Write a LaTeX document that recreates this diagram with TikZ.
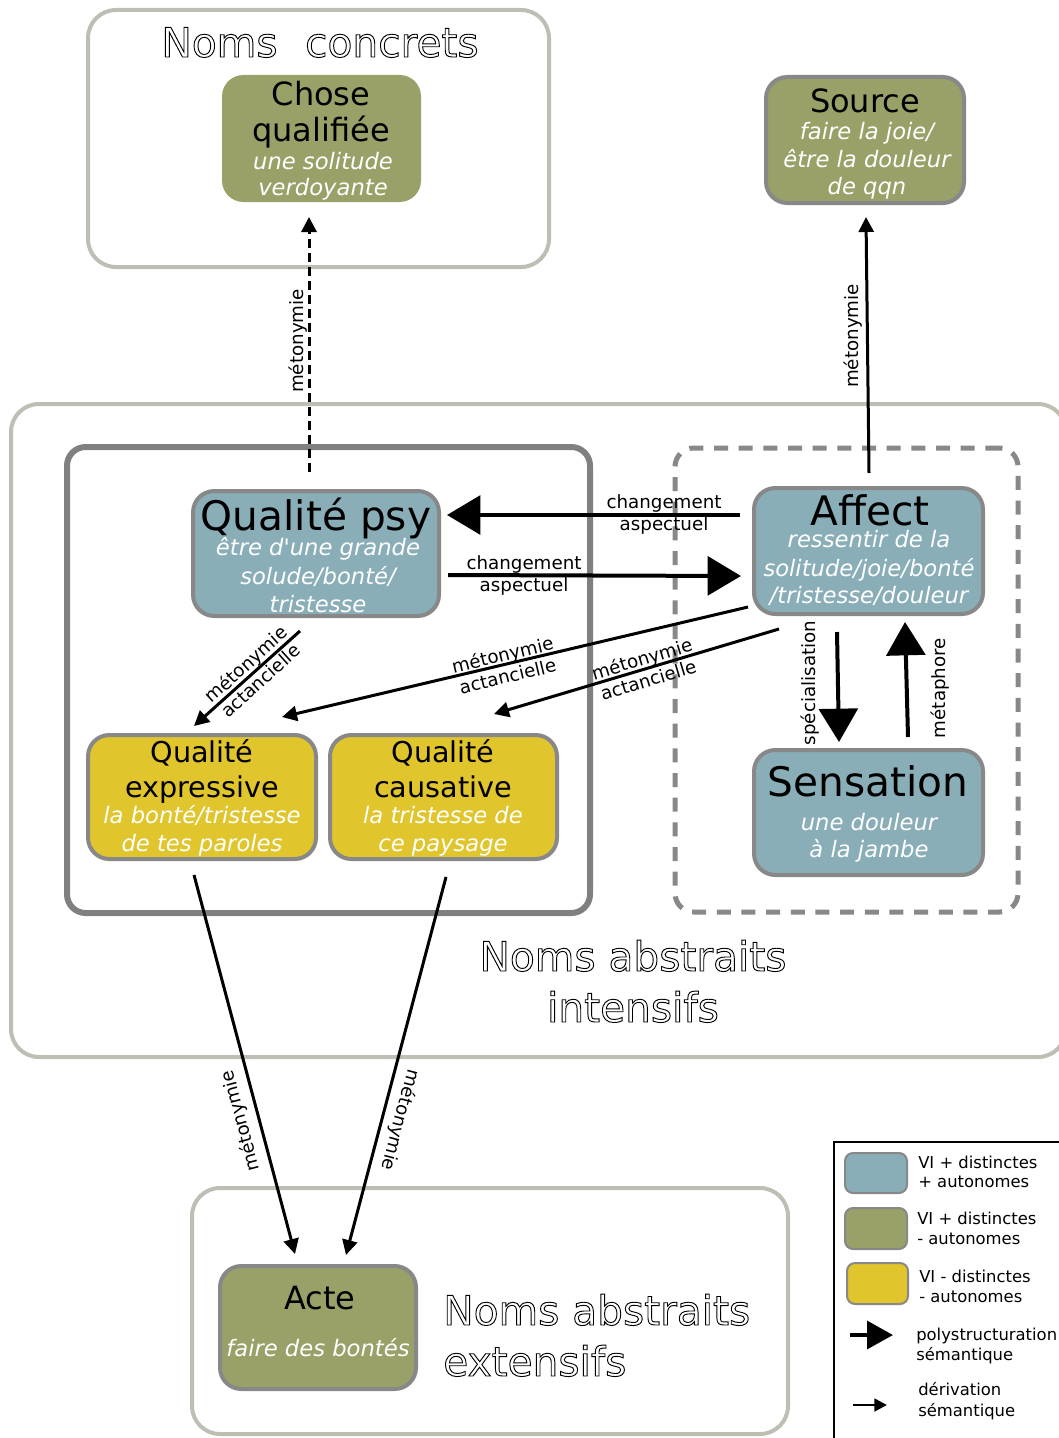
\documentclass[tikz,border=0pt]{standalone}
\usepackage{fontspec}
\setmainfont{DejaVu Sans}[Ligatures=TeXOff]
\usetikzlibrary{arrows.meta,fit}
\definecolor{olivebox}{RGB}{153,161,104}
\definecolor{bluebox}{RGB}{138,174,183}
\definecolor{yellowbox}{RGB}{225,197,45}
\definecolor{bordergray}{RGB}{136,136,136}
\definecolor{lightframe}{RGB}{190,190,181}
\definecolor{darkframe}{RGB}{128,128,128}
\newcommand\outlinetext[1]{\special{pdf:code 1 Tr 0.7 w}#1\special{pdf:code 0 Tr}}
\tikzset{
  lightbox/.style={draw=lightframe, line width=3pt, rounded corners=21pt, inner sep=0pt, fit={#1}},
  darkbox/.style={draw=darkframe, line width=4.5pt, rounded corners=14pt, inner sep=0pt, fit={#1}},
  dashbox/.style={draw=bordergray, line width=3.75pt, dash pattern=on 10.5pt off 8pt, rounded corners=14pt, inner sep=0pt, fit={#1}},
  cbox/.style={draw=bordergray, line width=3pt, rounded corners=16pt, inner sep=0pt, fit={#1}},
  bigttl/.style={anchor=base, inner sep=0pt, font=\fontsize{30.5}{36}\selectfont},
  ttl/.style={anchor=base, inner sep=0pt, font=\fontsize{24}{28}\selectfont},
  midttl/.style={anchor=base, inner sep=0pt, font=\fontsize{21.5}{26}\selectfont},
  subtxt/.style={anchor=base, inner sep=0pt, text=white, font=\fontsize{17}{20}\selectfont\itshape},
  hollow/.style={anchor=base, inner sep=0pt, font=\fontsize{30.5}{36}\selectfont},
  lbl/.style={inner sep=0pt, align=center, font=\fontsize{13.7}{16.5}\selectfont},
  leg/.style={anchor=base west, inner sep=0pt, font=\fontsize{12.3}{15}\selectfont},
  sarrow/.style={line width=2.25pt, -{Triangle[length=11.25pt,width=11.25pt]}},
  barrow/.style={line width=3pt, -{Triangle[length=25pt,width=29pt]}},
  swatch/.style={draw=bordergray, line width=1.5pt, rounded corners=6pt, inner sep=0pt, fit={#1}},
}
\begin{document}
\begin{tikzpicture}[x=0.75pt,y=-0.75pt]
\useasboundingbox (0,0) rectangle (1059,1438);

% containers
\node[lightbox={(88,10) (549,267)}] (concrets) {};
\node[hollow] (tconcrets) at (320,57) {\outlinetext{Noms\hspace{0.68em}concrets}};
\node[lightbox={(11,404) (1066,1057)}] (intensifs) {};
\node[hollow] (tint1) at (633,971) {\outlinetext{Noms abstraits}};
\node[hollow] (tint2) at (633,1022) {\outlinetext{intensifs}};
\node[darkbox={(67,447) (590,913)}] (qualites) {};
\node[dashbox={(675,448) (1018,912)}] (affects) {};
\node[lightbox={(192,1188) (788,1434)}] (extensifs) {};
\node[hollow, anchor=base west] (text1) at (443,1325) {\outlinetext{Noms abstraits}};
\node[hollow, anchor=base west] (text2) at (443,1376) {\outlinetext{extensifs}};

% Chose qualifiee
\node[cbox={(222,75) (421,202)}, fill=olivebox, draw=none] (chose) {};
\node[ttl] (chose1) at (321,105) {Chose};
\node[ttl] (chose2) at (321,142) {qualifiée};
\node[subtxt] (chose3) at (323,169) {une solitude};
\node[subtxt] (chose4) at (323,195) {verdoyante};

% Source
\node[cbox={(766,77) (964,203)}, fill=olivebox] (source) {};
\node[ttl] (source1) at (865,113) {Source};
\node[subtxt] (source2) at (867,139) {faire la joie/};
\node[subtxt] (source3) at (867,167) {être la douleur};
\node[subtxt] (source4) at (867,194) {de qqn};

% Qualite psy
\node[cbox={(193,491) (439,616)}, fill=bluebox] (psy) {};
\node[bigttl] (psy1) at (316,530) {Qualité psy};
\node[subtxt] (psy2) at (318,555) {être d'une grande};
\node[subtxt] (psy3) at (318,584) {solude/bonté/};
\node[subtxt] (psy4) at (318,612) {tristesse};

% Affect
\node[cbox={(754,488) (983,614)}, fill=bluebox] (affect) {};
\node[bigttl] (affect1) at (870,525) {Affect};
\node[subtxt] (affect2) at (869,547) {ressentir de la};
\node[subtxt] (affect3) at (869,576) {solitude/joie/bonté};
\node[subtxt] (affect4) at (869,603) {/tristesse/douleur};

% Sensation
\node[cbox={(754,750) (983,875)}, fill=bluebox] (sensation) {};
\node[bigttl] (sens1) at (868,796) {Sensation};
\node[subtxt] (sens2) at (869,830) {une douleur};
\node[subtxt] (sens3) at (869,857) {à la jambe};

% Qualite expressive
\node[cbox={(88,735) (316,859)}, fill=yellowbox] (expr) {};
\node[midttl] (expr1) at (202,762) {Qualité};
\node[midttl] (expr2) at (202,797) {expressive};
\node[subtxt] (expr3) at (202,823) {la bonté/tristesse};
\node[subtxt] (expr4) at (202,851) {de tes paroles};

% Qualite causative
\node[cbox={(330,735) (557,859)}, fill=yellowbox] (caus) {};
\node[midttl] (caus1) at (443,762) {Qualité};
\node[midttl] (caus2) at (443,797) {causative};
\node[subtxt] (caus3) at (443,823) {la tristesse de};
\node[subtxt] (caus4) at (443,851) {ce paysage};

% Acte
\node[cbox={(220,1266) (416,1389)}, fill=olivebox] (acte) {};
\node[ttl] (acte1) at (320,1309) {Acte};
\node[subtxt] (acte2) at (318,1356) {faire des bontés};

% connector end points
\coordinate (aTail) at (309,472); \coordinate (aTip) at (309,217);
\coordinate (bTail) at (869,473); \coordinate (bTip) at (866,217);
\coordinate (cTail) at (740,515); \coordinate (cTip) at (447,515);
\coordinate (dTail) at (448,575); \coordinate (dTip) at (741,576);
\coordinate (eTail) at (300,631); \coordinate (eTip) at (194,726);
\coordinate (fTail) at (748,607); \coordinate (fTip) at (282,717);
\coordinate (gTail) at (779,629); \coordinate (gTip) at (494,714);
\coordinate (hTail) at (837,632); \coordinate (hTip) at (839,742);
\coordinate (iTail) at (908,737); \coordinate (iTip) at (905,622);
\coordinate (jTail) at (194,875); \coordinate (jTip) at (295,1254);
\coordinate (kTail) at (446,877); \coordinate (kTip) at (346,1255);

% connectors
\draw[sarrow, dash pattern=on 6.75pt off 3.75pt] (aTail) -- (aTip);
\draw[sarrow] (bTail) -- (bTip);
\draw[barrow] (cTail) -- (cTip);
\draw[barrow] (dTail) -- (dTip);
\draw[sarrow] (eTail) -- (eTip);
\draw[sarrow] (fTail) -- (fTip);
\draw[sarrow] (gTail) -- (gTip);
\draw[barrow] (hTail) -- (hTip);
\draw[barrow] (iTail) -- (iTip);
\draw[sarrow] (jTail) -- (jTip);
\draw[sarrow] (kTail) -- (kTip);

% connector labels
\node[lbl, rotate=90] (la) at (298,341) {métonymie};
\node[lbl, rotate=90] (lb) at (853,336) {métonymie};
\node[lbl] (lc) at (664,514) {changement\\aspectuel};
\node[lbl] (ld) at (524,575) {changement\\aspectuel};
\node[lbl, rotate=42] (le) at (253,672) {métonymie\\actancielle};
\node[lbl, rotate=13.4] (lf) at (505,665) {métonymie\\actancielle};
\node[lbl, rotate=16.8] (lg) at (645,669) {métonymie\\actancielle};
\node[lbl, rotate=90] (lh) at (810,683) {spécialisation};
\node[lbl, rotate=90] (li) at (940,688) {métaphore};
\node[lbl, rotate=105] (lj) at (241,1121) {métonymie};
\node[lbl, rotate=-104.8] (lk) at (400,1120) {métonymie};

% legend
\node[draw=black, line width=1.5pt, inner sep=0pt, fit={(834,1142) (1075,1450)}] (legend) {};
\node[swatch={(845,1153) (907,1193)}, fill=bluebox] (sw1) {};
\node[leg] (lg1a) at (918,1168) {VI + distinctes};
\node[leg] (lg1b) at (918,1187) {+ autonomes};
\node[swatch={(845,1208) (907,1249)}, fill=olivebox] (sw2) {};
\node[leg] (lg2a) at (917,1224) {VI + distinctes};
\node[leg] (lg2b) at (917,1244) {- autonomes};
\node[swatch={(847,1263) (908,1304)}, fill=yellowbox] (sw3) {};
\node[leg] (lg3a) at (919,1282) {VI - distinctes};
\node[leg] (lg3b) at (919,1302) {- autonomes};
\coordinate (lgBigTail) at (850,1335); \coordinate (lgBigTip) at (893,1335);
\draw[line width=2.5pt, -{Triangle[length=19.5pt,width=21pt]}] (lgBigTail) -- (lgBigTip);
\node[leg] (lg4a) at (916,1340) {polystructuration};
\node[leg] (lg4b) at (916,1360) {sémantique};
\coordinate (lgSmallTail) at (853,1405); \coordinate (lgSmallTip) at (887,1405);
\draw[line width=2pt, -{Triangle[length=9.5pt,width=9.5pt]}] (lgSmallTail) -- (lgSmallTip);
\node[leg] (lg5a) at (918,1395) {dérivation};
\node[leg] (lg5b) at (918,1416) {sémantique};
\end{tikzpicture}
\end{document}
